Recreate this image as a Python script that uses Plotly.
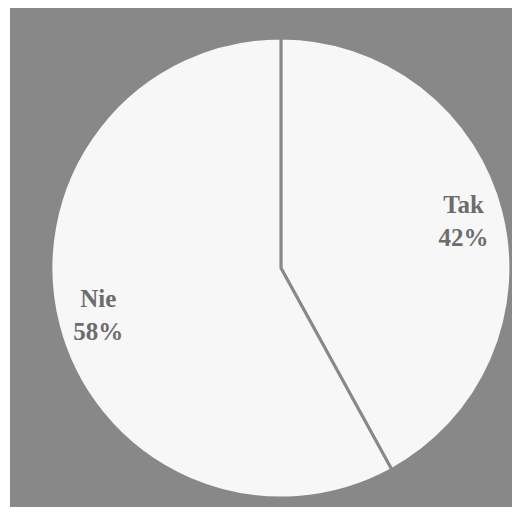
import plotly.graph_objects as go

# ── Données ──────────────────────────────────────────────────────────────────
labels = ["Tak", "Nie"]
values = [42, 58]

GRIS_FOND = "#888888"
BLANC_PART = "#f7f7f7"
GRIS_TEXTE = "#6c6c6c"

# le navigateur décale la page de 8 px (marge du body)
DOMAINE = dict(x=[0.079, 0.967], y=[0.018, 0.940])

fig = go.Figure()

# pie pleine, sans texte
fig.add_trace(go.Pie(
    labels=labels,
    values=values,
    sort=False,
    direction="clockwise",
    rotation=0,
    domain=DOMAINE,
    marker=dict(colors=[BLANC_PART, BLANC_PART], line=dict(color=GRIS_FOND, width=3)),
    textinfo="none",
    hoverinfo="label+percent",
    showlegend=False,
))

# anneau transparent : sert uniquement à placer les étiquettes vers le bord
fig.add_trace(go.Pie(
    labels=labels,
    values=values,
    sort=False,
    direction="clockwise",
    rotation=0,
    domain=DOMAINE,
    hole=0.64,
    marker=dict(colors=["rgba(0,0,0,0)", "rgba(0,0,0,0)"], line=dict(width=0)),
    texttemplate="<b>%{label}</b><br><b>%{percent:.0%}</b>",
    textposition="inside",
    insidetextorientation="horizontal",
    textfont=dict(family="Liberation Serif", size=25, color=GRIS_TEXTE),
    hoverinfo="skip",
    showlegend=False,
))

fig.update_layout(
    width=520,
    height=518,
    paper_bgcolor="white",
    margin=dict(l=2, r=0, t=0, b=19, pad=0),
    shapes=[dict(
        type="rect", xref="paper", yref="paper",
        x0=0, x1=1, y0=0, y1=1,
        fillcolor=GRIS_FOND, line=dict(width=0), layer="below",
    )],
    font=dict(family="Liberation Serif"),
)

fig.write_html("out.html")
